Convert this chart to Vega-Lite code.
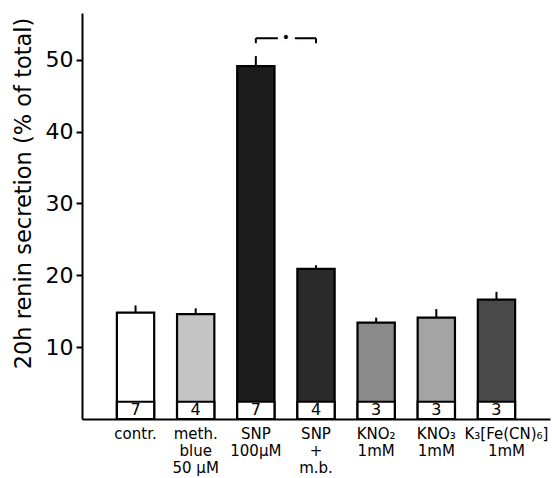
{
  "$schema": "https://vega.github.io/schema/vega-lite/v6.json",
  "width": 468,
  "height": 406,
  "autosize": "none",
  "padding": {"left": 82, "top": 13, "right": 2, "bottom": 59},
  "config": {"view": {"stroke": null}, "font": "DejaVu Sans", "background": "white"},
  "datasets": {
    "bars": [
      {"group": "contr.", "mean": 14.8, "upper": 15.8, "n": "7"},
      {"group": "meth.|blue|50 µM", "mean": 14.6, "upper": 15.4, "n": "4"},
      {"group": "SNP|100µM", "mean": 49.1, "upper": 50.5, "n": "7"},
      {"group": "SNP|+|m.b.", "mean": 20.9, "upper": 21.4, "n": "4"},
      {"group": "KNO₂|1mM", "mean": 13.4, "upper": 14.1, "n": "3"},
      {"group": "KNO₃|1mM", "mean": 14.1, "upper": 15.3, "n": "3"},
      {"group": "K₃[Fe(CN)₆]|1mM", "mean": 16.6, "upper": 17.7, "n": "3"}
    ],
    "sig": [{"a": "SNP|100µM", "b": "SNP|+|m.b.", "y": 53, "tick": 52.3}]
  },
  "encoding": {
    "x": {
      "field": "group", "type": "nominal", "sort": null,
      "scale": {"paddingInner": 0.38, "paddingOuter": 0.58},
      "axis": {
        "title": null, "ticks": false, "labelAngle": 0, "domainWidth": 2, "domainColor": "black",
        "labelFontSize": 15, "labelLineHeight": 17, "labelPadding": 7, "labelColor": "black",
        "labelExpr": "split(datum.value, '|')", "labelBaseline": "top", "labelOverlap": false,
        "labelOffset": {"condition": {"test": "datum.value === 'K₃[Fe(CN)₆]|1mM'", "value": 10}, "value": 0}
      }
    }
  },
  "layer": [
    {
      "data": {"name": "bars"},
      "mark": {"type": "rule", "stroke": "black", "strokeWidth": 2},
      "encoding": {
        "y": {"field": "mean", "type": "quantitative"},
        "y2": {"field": "upper"}
      }
    },
    {
      "data": {"name": "bars"},
      "mark": {"type": "bar", "stroke": "black", "strokeWidth": 2.2},
      "encoding": {
        "y": {
          "field": "mean", "type": "quantitative",
          "scale": {"domain": [0, 56.5], "nice": false, "zero": true},
          "axis": {
            "values": [10, 20, 30, 40, 50], "grid": false, "tickSize": 6, "tickWidth": 2, "tickColor": "black",
            "domainWidth": 2, "domainColor": "black", "labelFontSize": 22, "labelColor": "black", "labelPadding": 3,
            "title": "20h renin secretion (% of total)", "titleFontSize": 22.5, "titleFontWeight": "normal",
            "titleColor": "black", "titleY": 180, "titlePadding": 10
          }
        },
        "fill": {
          "field": "group", "type": "nominal", "legend": null,
          "scale": {
            "domain": ["contr.", "meth.|blue|50 µM", "SNP|100µM", "SNP|+|m.b.", "KNO₂|1mM", "KNO₃|1mM", "K₃[Fe(CN)₆]|1mM"],
            "range": ["#ffffff", "#c4c4c4", "#1c1c1c", "#2a2a2a", "#8a8a8a", "#a4a4a4", "#4a4a4a"]
          }
        }
      }
    },
    {
      "data": {"name": "bars"},
      "mark": {"type": "bar", "fill": "white", "stroke": "black", "strokeWidth": 2.2},
      "encoding": {
        "y": {"datum": 0, "type": "quantitative"},
        "y2": {"datum": 2.4}
      }
    },
    {
      "data": {"name": "bars"},
      "mark": {"type": "text", "fontSize": 16, "color": "black", "baseline": "middle"},
      "encoding": {
        "y": {"datum": 1.2, "type": "quantitative"},
        "text": {"field": "n"}
      }
    },
    {
      "data": {"name": "sig"},
      "mark": {"type": "rule", "stroke": "black", "strokeWidth": 2, "strokeDash": [22, 17]},
      "encoding": {
        "x": {"field": "a", "type": "nominal"},
        "x2": {"field": "b"},
        "y": {"field": "y", "type": "quantitative"}
      }
    },
    {
      "data": {"name": "sig"},
      "mark": {"type": "rule", "stroke": "black", "strokeWidth": 2},
      "encoding": {
        "x": {"field": "a", "type": "nominal"},
        "y": {"field": "tick", "type": "quantitative"},
        "y2": {"field": "y"}
      }
    },
    {
      "data": {"name": "sig"},
      "mark": {"type": "rule", "stroke": "black", "strokeWidth": 2},
      "encoding": {
        "x": {"field": "b", "type": "nominal"},
        "y": {"field": "tick", "type": "quantitative"},
        "y2": {"field": "y"}
      }
    },
    {
      "data": {"name": "sig"},
      "mark": {"type": "text", "text": "•", "fontSize": 14, "dx": 30, "baseline": "middle", "color": "black"},
      "encoding": {
        "x": {"field": "a", "type": "nominal"},
        "y": {"field": "y", "type": "quantitative"}
      }
    }
  ]
}
